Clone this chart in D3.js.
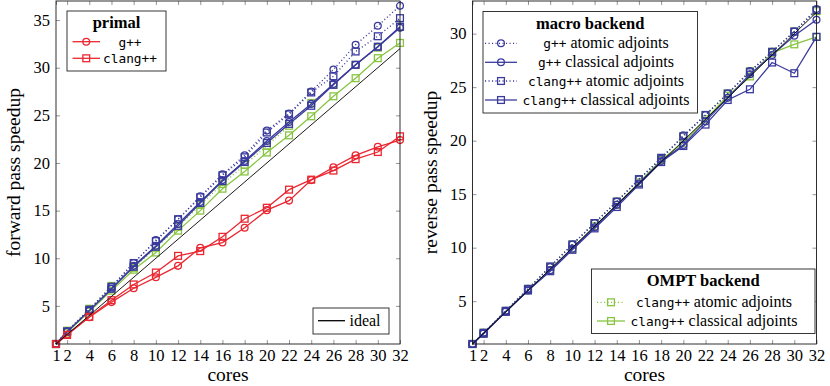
<!DOCTYPE html>
<html>
<head>
<meta charset="utf-8">
<script src="https://cdn.jsdelivr.net/npm/d3@7"></script>
<style>
  body { margin: 0; background: #fff; }
  svg text { font-family: "Liberation Serif", serif; fill: #000; }
  svg .tt { font-family: "DejaVu Sans Mono", monospace; }
</style>
</head>
<body>
<div id="chart"></div>
<script>
// x axis: number of cores
const cores = [1, 2, 4, 6, 8, 10, 12, 14, 16, 18, 20, 22, 24, 26, 28, 30, 32];
const yTicksFwd = [5, 10, 15, 20, 25, 30, 35];
const yTicksRev = [5, 10, 15, 20, 25, 30];

// forward pass speedup
const fwdPrimalGpp = [1, 2.0, 3.8, 5.4, 6.85, 8.0, 9.2, 11.1, 11.65, 13.2, 15.05, 16.05, 18.2, 19.55, 20.8, 21.7, 22.4];
const fwdPrimalClang = [1, 1.95, 3.85, 5.6, 7.25, 8.5, 10.25, 10.75, 12.25, 14.15, 15.3, 17.2, 18.25, 19.2, 20.4, 21.15, 22.8];
const fwdMacroGppAtomic = [1, 2.3, 4.6, 7.0, 9.5, 11.9, 14.1, 16.5, 18.8, 20.8, 23.4, 25.2, 27.5, 29.8, 32.4, 34.4, 36.5];
const fwdMacroGppClassical = [1, 2.3, 4.5, 6.8, 9.2, 11.3, 13.6, 15.9, 18.2, 20.2, 22.3, 24.3, 26.2, 28.3, 30.3, 32.2, 34.2];
const fwdMacroClangAtomic = [1, 2.3, 4.6, 7.0, 9.5, 11.8, 14.1, 16.4, 18.7, 20.6, 23.2, 25.1, 27.4, 29.1, 31.7, 33.3, 35.2];
const fwdMacroClangClassical = [1, 2.3, 4.5, 6.8, 9.1, 11.2, 13.4, 15.8, 18.1, 20.1, 22.1, 24.1, 26.0, 28.2, 30.3, 32.2, 34.3];
const fwdOmptClangAtomic = [1, 2.4, 4.7, 7.1, 9.0, 11.1, 13.3, 15.6, 17.8, 19.8, 21.8, 23.9, 26.3, 28.2, 30.3, 32.1, 34.3];
const fwdOmptClangClassical = [1, 2.2, 4.4, 6.6, 8.8, 10.6, 12.9, 15.0, 17.3, 19.1, 21.1, 22.9, 24.9, 27.0, 28.9, 31.0, 32.6];

// reverse pass speedup
const revMacroGppAtomic = [1, 2.05, 4.1, 6.15, 8.2, 10.3, 12.3, 14.3, 16.4, 18.3, 20.5, 22.4, 24.4, 26.5, 28.3, 30.2, 32.3];
const revMacroGppClassical = [1, 2.0, 4.05, 6.0, 7.9, 9.9, 11.9, 14.0, 16.0, 18.1, 19.6, 21.8, 24.0, 26.2, 28.0, 29.8, 31.3];
const revMacroClangAtomic = [1, 2.05, 4.1, 6.15, 8.25, 10.3, 12.3, 14.3, 16.4, 18.4, 20.4, 22.4, 24.4, 26.4, 28.3, 30.2, 32.2];
const revMacroClangClassical = [1, 1.95, 4.0, 6.0, 7.8, 9.8, 11.8, 13.8, 15.9, 18.0, 19.5, 21.5, 23.8, 24.8, 27.3, 26.3, 29.7];
const revOmptClangAtomic = [1, 2.05, 4.1, 6.15, 8.2, 10.3, 12.3, 14.3, 16.4, 18.3, 20.4, 22.4, 24.4, 26.5, 28.3, 30.2, 32.1];
const revOmptClangClassical = [1, 2.0, 4.05, 6.05, 7.9, 9.9, 12.0, 14.0, 16.1, 18.2, 19.8, 22.0, 24.2, 26.0, 28.2, 29.0, 29.7];

const RED = "#ea2630", BLUE = "#3a3a9e", GREEN = "#87c541";
const SERIF = '"Liberation Serif", serif';
const plotW = 344, plotTop = 1, plotBottom = 344;

const svg = d3.select("#chart").append("svg")
    .attr("width", 830)
    .attr("height", 386);

function RenderPanel(x0, yMax, yTicks, yLabel, series) {
    let x = d3.scaleLinear().domain([1, 32]).range([x0, x0 + plotW]);
    let y = d3.scaleLinear().domain([1, yMax]).range([plotBottom, plotTop]);
    let g = svg.append("g");

    // ticks on all four sides, pointing inward
    g.append("g").attr("transform", `translate(0,${plotBottom})`)
        .call(d3.axisBottom(x).tickValues(cores).tickSizeInner(-4).tickSizeOuter(0).tickPadding(5));
    g.append("g").attr("transform", `translate(0,${plotTop})`)
        .call(d3.axisTop(x).tickValues(cores).tickSizeInner(-4).tickSizeOuter(0).tickFormat(""));
    g.append("g").attr("transform", `translate(${x0},0)`)
        .call(d3.axisLeft(y).tickValues(yTicks).tickSizeInner(-4).tickSizeOuter(0).tickPadding(6));
    g.append("g").attr("transform", `translate(${x0 + plotW},0)`)
        .call(d3.axisRight(y).tickValues(yTicks).tickSizeInner(-4).tickSizeOuter(0).tickFormat(""));
    g.selectAll(".domain").remove();
    g.selectAll(".tick line").attr("stroke", "#8a8a8a").attr("stroke-width", 0.9);
    g.selectAll(".tick text")
        .style("font-family", SERIF)
        .style("font-size", "16.5px");

    // series
    let line = d3.line().x((d, i) => x(cores[i])).y(d => y(d));
    series.forEach(s => {
        g.append("path")
            .datum(s.values)
            .attr("fill", "none")
            .attr("stroke", s.color)
            .attr("stroke-width", 1.3)
            .attr("stroke-dasharray", s.dotted ? "1.1,2.4" : null)
            .attr("d", line);
        DrawMarkers(g, s.values.map((v, i) => [x(cores[i]), y(v)]), s);
    });

    // frame
    g.append("rect")
        .attr("x", x0).attr("y", plotTop)
        .attr("width", plotW).attr("height", plotBottom - plotTop)
        .attr("fill", "none").attr("stroke", "#1a1a1a").attr("stroke-width", 0.9);

    g.append("text")
        .attr("x", x0 + plotW / 2).attr("y", 381)
        .attr("text-anchor", "middle")
        .style("font-family", SERIF).style("font-size", "19.5px")
        .text("cores");
    g.append("text")
        .attr("transform", `translate(${x0 - 36},${(plotTop + plotBottom) / 2}) rotate(-90)`)
        .attr("text-anchor", "middle")
        .style("font-family", SERIF).style("font-size", "19.5px")
        .text(yLabel);

    return { x: x, y: y, g: g };
}

function DrawMarkers(g, points, s) {
    let r = 3.4;
    points.forEach(p => {
        if (s.marker == "circle") {
            g.append("circle").attr("cx", p[0]).attr("cy", p[1]).attr("r", r)
                .attr("fill", "none").attr("stroke", s.color).attr("stroke-width", 1.3);
        }
        else if (s.marker == "square") {
            g.append("rect").attr("x", p[0] - r).attr("y", p[1] - r)
                .attr("width", 2 * r).attr("height", 2 * r)
                .attr("fill", "none").attr("stroke", s.color).attr("stroke-width", 1.3);
        }
    });
}

function RenderLegend(box, title, entries, textCenter, sampleX, rowY) {
    let g = svg.append("g");
    g.append("rect")
        .attr("x", box[0]).attr("y", box[1])
        .attr("width", box[2] - box[0]).attr("height", box[3] - box[1])
        .attr("fill", "#fff").attr("stroke", "#222").attr("stroke-width", 0.9);
    if (title) {
        g.append("text")
            .attr("x", (box[0] + box[2]) / 2).attr("y", box[1] + 17)
            .attr("text-anchor", "middle")
            .style("font-family", SERIF).style("font-size", "16.5px").style("font-weight", "bold")
            .text(title);
    }
    entries.forEach((e, i) => {
        let cy = rowY[i];
        g.append("line")
            .attr("x1", sampleX[0]).attr("x2", sampleX[1])
            .attr("y1", cy).attr("y2", cy)
            .attr("stroke", e.color).attr("stroke-width", 1.3)
            .attr("stroke-dasharray", e.dotted ? "1.1,2.4" : null);
        DrawMarkers(g, [[(sampleX[0] + sampleX[1]) / 2, cy]], e);
        let t = g.append("text")
            .attr("x", textCenter).attr("y", cy + 5)
            .attr("text-anchor", "middle")
            .style("font-family", SERIF).style("font-size", "16px");
        t.append("tspan").attr("class", "tt").style("font-size", "12.8px").text(e.code);
        if (e.rest) t.append("tspan").text(e.rest);
    });
}

// left panel: forward pass
let ideal = [1, 32];
let left = RenderPanel(56, 37, yTicksFwd, "forward pass speedup", [
    { values: fwdOmptClangClassical, color: GREEN, marker: "square", dotted: false },
    { values: fwdOmptClangAtomic, color: GREEN, marker: "square", dotted: true },
    { values: fwdMacroClangClassical, color: BLUE, marker: "square", dotted: false },
    { values: fwdMacroGppClassical, color: BLUE, marker: "circle", dotted: false },
    { values: fwdMacroClangAtomic, color: BLUE, marker: "square", dotted: true },
    { values: fwdMacroGppAtomic, color: BLUE, marker: "circle", dotted: true },
    { values: fwdPrimalGpp, color: RED, marker: "circle", dotted: false },
    { values: fwdPrimalClang, color: RED, marker: "square", dotted: false }
]);
left.g.append("line")
    .attr("x1", left.x(ideal[0])).attr("y1", left.y(ideal[0]))
    .attr("x2", left.x(ideal[1])).attr("y2", left.y(ideal[1]))
    .attr("stroke", "#000").attr("stroke-width", 0.9);

// right panel: reverse pass
let right = RenderPanel(472.5, 33.05, yTicksRev, "reverse pass speedup", [
    { values: revOmptClangClassical, color: GREEN, marker: "square", dotted: false },
    { values: revOmptClangAtomic, color: GREEN, marker: "square", dotted: true },
    { values: revMacroClangClassical, color: BLUE, marker: "square", dotted: false },
    { values: revMacroGppClassical, color: BLUE, marker: "circle", dotted: false },
    { values: revMacroClangAtomic, color: BLUE, marker: "square", dotted: true },
    { values: revMacroGppAtomic, color: BLUE, marker: "circle", dotted: true }
]);
right.g.append("line")
    .attr("x1", right.x(ideal[0])).attr("y1", right.y(ideal[0]))
    .attr("x2", right.x(ideal[1])).attr("y2", right.y(ideal[1]))
    .attr("stroke", "#000").attr("stroke-width", 0.9);

// legends
RenderLegend([67, 11, 166, 71], "primal", [
    { code: "g++", color: RED, marker: "circle" },
    { code: "clang++", color: RED, marker: "square" }
], 130, [72.5, 100], [41.7, 58.3]);

RenderLegend([313, 308, 389, 334], null, [
    { code: "", rest: "ideal", color: "#000" }
], 365, [318, 345], [320.7]);

RenderLegend([483, 11.5, 697.5, 113], "macro backend", [
    { code: "g++", rest: " atomic adjoints", color: BLUE, marker: "circle", dotted: true },
    { code: "g++", rest: " classical adjoints", color: BLUE, marker: "circle" },
    { code: "clang++", rest: " atomic adjoints", color: BLUE, marker: "square", dotted: true },
    { code: "clang++", rest: " classical adjoints", color: BLUE, marker: "square" }
], 606, [485, 517], [43.3, 62.3, 81, 100]);

RenderLegend([591.5, 269, 815, 333.5], "OMPT backend", [
    { code: "clang++", rest: " atomic adjoints", color: GREEN, marker: "square", dotted: true },
    { code: "clang++", rest: " classical adjoints", color: GREEN, marker: "square" }
], 714, [597, 625], [302.3, 321]);
</script>
</body>
</html>
